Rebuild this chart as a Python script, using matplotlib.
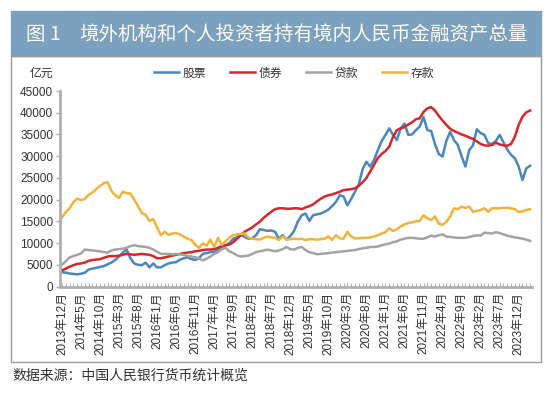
import matplotlib
matplotlib.use('Agg')
import matplotlib.pyplot as plt
from matplotlib.patches import Rectangle

plt.rcParams['font.family'] = ['Noto Sans CJK SC', 'DejaVu Sans']
num_font = ['Liberation Sans', 'Noto Sans CJK SC']

# monthly data, 2013-12 .. 2024-03 (亿元)
stocks = [3300, 3200, 3000, 2900, 2800, 2950, 3150, 3900, 4100, 4300,
          4500, 4700, 5100, 5500, 6100, 6900, 7800, 8500, 6500, 5300,
          5000, 4900, 5500, 4400, 5300, 4400, 4400, 4900, 5300, 5500,
          5600, 6200, 6500, 6700, 6300, 6100, 6500, 7500, 7700, 7900,
          8000, 8400, 8800, 9500, 10000, 11000, 11300, 12000, 11400, 11000,
          11100, 11800, 13200, 13000, 12800, 12900, 12600, 11000, 11800, 10800,
          11600, 12800, 15000, 16400, 16800, 15100, 16400, 16600, 16800, 17200,
          17700, 18500, 19500, 21000, 20700, 18700, 20200, 21800, 23500, 27000,
          28700, 27600, 29100, 31400, 33500, 34900, 36400, 34900, 33700, 36400,
          37500, 34900, 35000, 36000, 36800, 39000, 36000, 35800, 32800, 30500,
          29900, 33500, 35600, 33700, 32600, 30000, 27600, 31400, 32500, 36200,
          35300, 34900, 33000, 32800, 33500, 34900, 33200, 31500, 30300, 29500,
          27600, 24500, 27200, 27800]
bonds = [3700, 4100, 4550, 4900, 5200, 5300, 5500, 5900, 6100, 6200,
         6300, 6600, 6900, 7000, 7000, 7100, 7300, 7500, 7400, 7300,
         7400, 7500, 7400, 7300, 7000, 6500, 6500, 6700, 6900, 7100,
         7300, 7500, 7700, 7800, 7900, 8100, 8200, 8400, 8500, 8500,
         8600, 8900, 9300, 9500, 9650, 10200, 11000, 11800, 12600, 13100,
         13600, 14300, 14900, 15800, 16500, 17200, 17800, 18000, 18000, 17900,
         17900, 18000, 18000, 17800, 18200, 18500, 18900, 19600, 20200, 20700,
         21000, 21200, 21500, 21800, 22200, 22300, 22400, 22600, 23200, 24000,
         25000, 26500, 28000, 29600, 30500, 31200, 32200, 34500, 36000, 36400,
         36700, 37300, 37800, 38500, 38700, 40200, 41000, 41300, 40500, 39300,
         38200, 37200, 36300, 35800, 35400, 35000, 34700, 34300, 34000, 33400,
         32800, 32500, 32400, 32600, 33100, 32700, 32500, 32400, 32800, 34500,
         37200, 39100, 40100, 40500]
loans = [5000, 5800, 6700, 7000, 7300, 7600, 8500, 8400, 8300, 8200,
         8100, 7900, 7800, 8300, 8500, 8600, 8700, 8900, 9300, 9500,
         9300, 9200, 9100, 8900, 8500, 8000, 7500, 7500, 7500, 7400,
         7500, 7400, 7300, 7000, 6900, 6750, 6500, 6000, 6400, 6900,
         7500, 7900, 8600, 8900, 8100, 7700, 7200, 6900, 7000, 7100,
         7500, 7900, 8100, 8300, 8500, 8300, 8100, 8300, 8600, 9100,
         8600, 8500, 8900, 9100, 8400, 7900, 7700, 7400, 7500, 7600,
         7700, 7800, 7900, 8000, 8100, 8200, 8300, 8400, 8600, 8800,
         8900, 9100, 9100, 9200, 9500, 9700, 9900, 10200, 10400, 10800,
         11000, 11200, 11200, 11100, 11000, 11000, 11300, 11700, 11500, 11800,
         12000, 11500, 11400, 11300, 11200, 11200, 11200, 11400, 11600, 11800,
         11700, 12400, 12300, 12200, 12500, 12300, 12000, 11700, 11500, 11300,
         11200, 11000, 10800, 10500]
deposits = [15900, 17100, 18000, 19400, 20200, 19900, 20100, 21100, 21600, 22400,
            23100, 23800, 24000, 22000, 21000, 20400, 21800, 21500, 21400, 20000,
            18500, 16900, 16500, 15100, 15500, 13600, 11800, 12600, 11900, 12200,
            12300, 12000, 11500, 11000, 10700, 9650, 8900, 9900, 9400, 10800,
            9100, 11200, 9600, 10400, 11300, 11800, 12000, 12100, 12200, 11300,
            11000, 10900, 10800, 11200, 11500, 11300, 11200, 10700, 11500, 10800,
            10900, 11000, 10900, 11000, 10700, 10900, 10900, 10800, 10900, 11000,
            11500, 10700, 11800, 11100, 11000, 12600, 11500, 11100, 11100, 11200,
            11200, 11300, 11500, 11800, 12200, 12500, 13400, 12800, 13200, 13800,
            14300, 14600, 14800, 15000, 15100, 16400, 15700, 15300, 16100, 14500,
            14200, 14900, 16100, 18000, 17800, 18400, 18100, 18400, 17200, 17400,
            17600, 18000, 17200, 18000, 18000, 18000, 18100, 18100, 18000, 17800,
            17100, 17300, 17600, 17800]

series_names = ['股票', '债券', '贷款', '存款']
colors = ['#4a87bf', '#d7262c', '#a3a3a3', '#f0b43c']

n = len(stocks)
labels = []
y, m = 2013, 12
for i in range(n):
    labels.append('%d年%d月' % (y, m) if i % 5 == 0 else '')
    m += 1
    if m > 12:
        y, m = y + 1, 1

W, H = 550, 396
fig = plt.figure(figsize=(W / 100, H / 100), dpi=100)

# title banner and frame
fig.patches.append(Rectangle((11 / W, 1 - 56 / H), 530 / W, 45 / H,
                             transform=fig.transFigure, color='#7ba1be', zorder=0))
fig.patches.append(Rectangle((11 / W, 1 - 362 / H), 530 / W, 306 / H,
                             transform=fig.transFigure, fill=False,
                             edgecolor='#9a9a9a', lw=1, zorder=0))
fig.text(26 / W, 1 - 34 / H, '图 1', color='white', fontsize=14, va='center')
fig.text(79 / W, 1 - 34 / H, '境外机构和个人投资者持有境内人民币金融资产总量',
         color='white', fontsize=14, va='center')
fig.text(30 / W, 1 - 73 / H, '亿元', fontsize=8.5, color='#333333', va='center')
fig.text(12 / W, 1 - 376 / H, '数据来源：中国人民银行货币统计概览',
         fontsize=10, color='#333333', va='center')

ax = fig.add_axes([60 / W, 1 - 286.5 / H, (532 - 60) / W, (286.5 - 91) / H])
x = list(range(n))
for vals, name, c in zip([stocks, bonds, loans, deposits], series_names, colors):
    ax.plot(x, vals, color=c, lw=1.8, label=name)

ax.set_xlim(-0.5, n - 0.5)
ax.set_ylim(0, 45000)
ax.set_yticks(range(0, 45001, 5000))
ax.set_xticks(x)
ax.set_xticklabels(labels, rotation=90, fontsize=8.5, color='#333333', family=num_font)
for t in ax.get_yticklabels():
    t.set_family(num_font)
for s in ['top', 'right']:
    ax.spines[s].set_visible(False)
for s in ['left', 'bottom']:
    ax.spines[s].set_color('#b0b0b0')
    ax.spines[s].set_linewidth(2)
ax.tick_params(axis='y', direction='out', length=3, width=1, color='#b0b0b0',
               labelsize=8.5, labelcolor='#333333', pad=2)
ax.tick_params(axis='x', direction='in', length=3, width=0.7, color='#b0b0b0', pad=4)

fig.legend(loc='center', bbox_to_anchor=(294 / W, 1 - 73 / H), ncol=4, frameon=False,
           fontsize=8.5, handlelength=2.1, handletextpad=0.25, columnspacing=2.1,
           labelcolor='#333333')

fig.savefig('out.png', dpi=100)
